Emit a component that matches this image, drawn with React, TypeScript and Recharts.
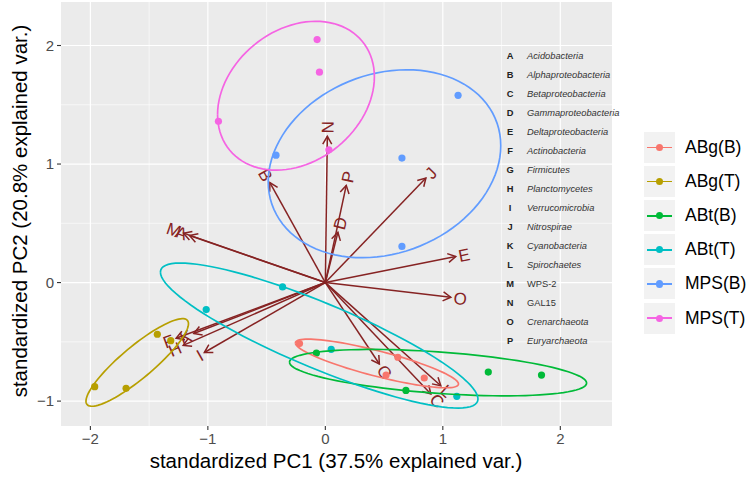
import { ScatterChart, Scatter, XAxis, YAxis, ReferenceLine } from "recharts";

// sample scores (PC1, PC2) per group
const GROUPS = ["ABg(B)", "ABg(T)", "ABt(B)", "ABt(T)", "MPS(B)", "MPS(T)"];
const COLORS = ["#F8766D", "#B79F00", "#00BA38", "#00BFC4", "#619CFF", "#F564E3"];

const ABG_B = [[-0.22, -0.515], [0.617, -0.63], [0.517, -0.78], [0.842, -0.805]];
const ABG_T = [[-1.963, -0.878], [-1.696, -0.892], [-1.43, -0.436], [-1.316, -0.49]];
const ABT_B = [[-0.076, -0.594], [0.686, -0.91], [1.387, -0.755], [1.84, -0.78]];
const ABT_T = [[-0.364, -0.037], [-1.014, -0.228], [0.05, -0.563], [1.119, -0.96]];
const MPS_B = [[1.13, 1.58], [-0.42, 1.075], [0.652, 1.05], [0.652, 0.305]];
const MPS_T = [[-0.07, 2.05], [-0.05, 1.775], [-0.91, 1.36], [0.03, 1.12]];
const GROUP_POINTS = [ABG_B, ABG_T, ABT_B, ABT_T, MPS_B, MPS_T];

// variable loadings (arrow tips)
const VAR_LETTERS = ["A", "B", "C", "D", "E", "F", "G", "H", "I", "J", "K", "L", "M", "N", "O", "P"];
const VAR_X = [-1.156, -0.472, 0.898, 0.107, 1.11, -1.27, 0.46, -1.21, -1.03, 0.856, -1.12, 0.983, -1.207, 0.017, 1.068, 0.178];
const VAR_Y = [0.397, 0.843, -0.94, 0.425, 0.22, -0.47, -0.687, -0.53, -0.59, 0.882, -0.43, -0.87, 0.417, 1.234, -0.124, 0.82];
const VAR_NAMES = [
  "Acidobacteria", "Alphaproteobacteria", "Betaproteobacteria", "Gammaproteobacteria",
  "Deltaproteobacteria", "Actinobacteria", "Firmicutes", "Planctomycetes", "Verrucomicrobia",
  "Nitrospirae", "Cyanobacteria", "Spirochaetes", "WPS-2", "GAL15", "Crenarchaeota", "Euryarchaeota",
];
const ITALIC = [true, true, true, true, true, true, true, true, true, true, true, true, false, false, true, true];

const X_TICKS = [-2, -1, 0, 1, 2];
const Y_TICKS = [-1, 0, 1, 2];
const X_MINOR = [-1.5, -0.5, 0.5, 1.5];
const Y_MINOR = [-0.5, 0.5, 1.5];

const ARROW = "#862323";

// normal-probability ellipse (68%) like ggbiplot
function ellipse(pts: number[][]) {
  const n = pts.length;
  const mx = pts.reduce((s, p) => s + p[0], 0) / n;
  const my = pts.reduce((s, p) => s + p[1], 0) / n;
  let a = 0, b = 0, c = 0;
  pts.forEach((p) => {
    a += (p[0] - mx) ** 2;
    b += (p[0] - mx) * (p[1] - my);
    c += (p[1] - my) ** 2;
  });
  a /= n - 1; b /= n - 1; c /= n - 1;
  const r11 = Math.sqrt(a);
  const r12 = b / r11;
  const r22 = Math.sqrt(Math.max(c - r12 * r12, 0));
  const ed = Math.sqrt(-2 * Math.log(1 - 0.68));
  const out: { x: number; y: number }[] = [];
  for (let i = 0; i <= 100; i++) {
    const t = -Math.PI + (2 * Math.PI * i) / 100;
    const u = Math.cos(t), v = Math.sin(t);
    out.push({ x: mx + ed * u * r11, y: my + ed * (u * r12 + v * r22) });
  }
  return out;
}

const ArrowShape = (props: any, i: number) => {
  const { x1, y1, x2, y2 } = props;
  const dx = x2 - x1, dy = y2 - y1;
  const len = Math.sqrt(dx * dx + dy * dy);
  const ux = dx / len, uy = dy / len;
  const L = 9, ang = Math.PI / 6;
  const w1x = x2 - L * (ux * Math.cos(ang) - uy * Math.sin(ang));
  const w1y = y2 - L * (uy * Math.cos(ang) + ux * Math.sin(ang));
  const w2x = x2 - L * (ux * Math.cos(ang) + uy * Math.sin(ang));
  const w2y = y2 - L * (uy * Math.cos(ang) - ux * Math.sin(ang));
  const vx = VAR_X[i], vy = VAR_Y[i];
  const deg = (Math.atan(vy / vx) * 180) / Math.PI;
  const pos = vx > 0;
  return (
    <g>
      <line x1={x1} y1={y1} x2={x2} y2={y2} stroke={ARROW} strokeWidth={1.5} />
      <polyline points={`${w1x},${w1y} ${x2},${y2} ${w2x},${w2y}`} fill="none" stroke={ARROW} strokeWidth={1.5} />
      <text
        x={x2}
        y={y2}
        transform={`rotate(${-deg}, ${x2}, ${y2})`}
        textAnchor={pos ? "start" : "end"}
        dx={pos ? 3 : -3}
        dy="0.36em"
        fill={ARROW}
        fontSize={17}
        fontFamily="Liberation Sans, Arial, sans-serif"
      >
        {VAR_LETTERS[i]}
      </text>
    </g>
  );
};

export default function App() {
  const font = "Liberation Sans, Arial, sans-serif";
  return (
    <div style={{ position: "absolute", left: 0, top: 0, width: 749, height: 480, background: "#fff", fontFamily: font }}>
      <div style={{ position: "absolute", left: 61, top: 2, width: 551, height: 424, background: "#EBEBEB" }} />
      <div style={{ position: "absolute", left: 0, top: 0 }}>
        <ScatterChart width={749} height={480} margin={{ top: 2, right: 137, bottom: 0, left: 0 }}>
          <XAxis
            type="number"
            dataKey="x"
            domain={[-2.25, 2.44]}
            ticks={X_TICKS}
            allowDataOverflow
            height={54}
            axisLine={false}
            tickSize={4}
            tickMargin={3}
            tickLine={{ stroke: "#333", strokeWidth: 1.1 }}
            tick={{ fill: "#4D4D4D", fontSize: 15, fontFamily: font }}
            tickFormatter={(v) => (v < 0 ? "\u2212" + Math.abs(v) : String(v))}
          />
          <YAxis
            type="number"
            dataKey="y"
            domain={[-1.21, 2.367]}
            ticks={Y_TICKS}
            allowDataOverflow
            width={61}
            axisLine={false}
            tickSize={4}
            tickMargin={3}
            tickLine={{ stroke: "#333", strokeWidth: 1.1 }}
            tick={{ fill: "#4D4D4D", fontSize: 15, fontFamily: font }}
            tickFormatter={(v) => (v < 0 ? "\u2212" + Math.abs(v) : String(v))}
          />
          {X_MINOR.map((v) => (
            <ReferenceLine key={"xm" + v} x={v} stroke="#fff" strokeWidth={0.6} />
          ))}
          {Y_MINOR.map((v) => (
            <ReferenceLine key={"ym" + v} y={v} stroke="#fff" strokeWidth={0.6} />
          ))}
          {X_TICKS.map((v) => (
            <ReferenceLine key={"xM" + v} x={v} stroke="#fff" strokeWidth={1.2} />
          ))}
          {Y_TICKS.map((v) => (
            <ReferenceLine key={"yM" + v} y={v} stroke="#fff" strokeWidth={1.2} />
          ))}
          {GROUP_POINTS.map((pts, g) => (
            <Scatter
              key={"pt" + g}
              name={GROUPS[g]}
              data={pts.map((p) => ({ x: p[0], y: p[1] }))}
              fill={COLORS[g]}
              isAnimationActive={false}
              shape={(p: any) => <circle cx={p.cx} cy={p.cy} r={3.6} fill={COLORS[g]} />}
            />
          ))}
          {VAR_LETTERS.map((l, i) => (
            <ReferenceLine
              key={"ar" + l}
              segment={[{ x: 0, y: 0 }, { x: VAR_X[i], y: VAR_Y[i] }]}
              ifOverflow="visible"
              shape={(p: any) => ArrowShape(p, i)}
            />
          ))}
          {GROUP_POINTS.map((pts, g) => (
            <Scatter
              key={"el" + g}
              data={ellipse(pts)}
              line={{ stroke: COLORS[g], strokeWidth: 1.7 }}
              lineType="joint"
              isAnimationActive={false}
              shape={() => <g />}
            />
          ))}
        </ScatterChart>
      </div>

      {/* variable key inside the panel */}
      {VAR_LETTERS.map((l, i) => (
        <div key={"k" + l} style={{ position: "absolute", left: 503, top: 49 + i * 19, height: 14, lineHeight: "14px", fontSize: 9.3, whiteSpace: "nowrap" }}>
          <span style={{ display: "inline-block", width: 14, textAlign: "center", fontWeight: "bold", color: "#222" }}>{l}</span>
          <span style={{ position: "absolute", left: 24, fontStyle: ITALIC[i] ? "italic" : "normal", color: "#333" }}>{VAR_NAMES[i]}</span>
        </div>
      ))}

      {/* legend */}
      {GROUPS.map((g, i) => (
        <div key={"lg" + g} style={{ position: "absolute", left: 644, top: 132 + i * 34.1, height: 31 }}>
          <div style={{ position: "absolute", left: 0, top: 0, width: 31, height: 31, background: "#F2F2F2" }} />
          <div style={{ position: "absolute", left: 3, top: 14.8, width: 25, height: 1.6, background: COLORS[i] }} />
          <div style={{ position: "absolute", left: 12, top: 12, width: 7.2, height: 7.2, borderRadius: "50%", background: COLORS[i] }} />
          <div style={{ position: "absolute", left: 41, top: 3, fontSize: 17.5, lineHeight: "24px", color: "#000", whiteSpace: "nowrap" }}>{g}</div>
        </div>
      ))}

      {/* axis titles */}
      <div style={{ position: "absolute", left: 136, width: 400, top: 449, textAlign: "center", fontSize: 20.5, lineHeight: "24px", whiteSpace: "nowrap" }}>
        standardized PC1 (37.5% explained var.)
      </div>
      <div
        style={{
          position: "absolute", left: 20, top: 211, width: 420, marginLeft: -210, marginTop: -12,
          textAlign: "center", fontSize: 20.5, lineHeight: "24px", whiteSpace: "nowrap", transform: "rotate(-90deg)",
        }}
      >
        standardized PC2 (20.8% explained var.)
      </div>
    </div>
  );
}
